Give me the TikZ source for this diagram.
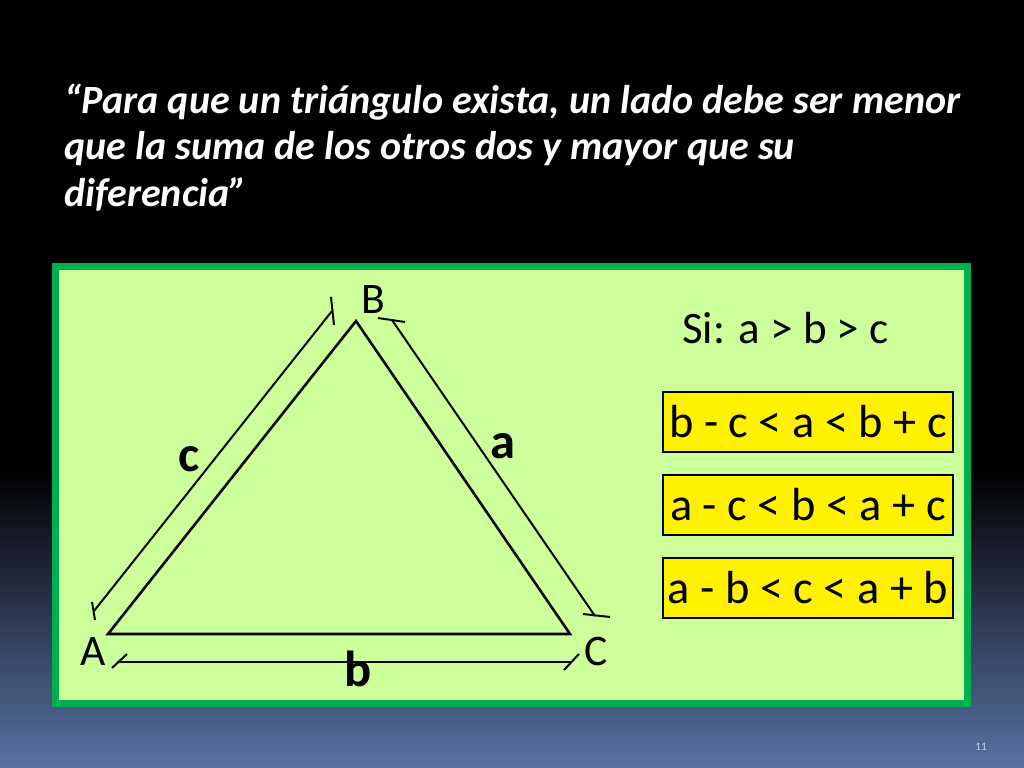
\documentclass[tikz,border=0pt]{standalone}
\usepackage{fontspec}
\setmainfont{Carlito}
\usepackage{tikz}
\usetikzlibrary{positioning,calc}
\definecolor{slideblue}{RGB}{88,114,164}
\definecolor{framegreen}{RGB}{0,176,80}
\definecolor{panelgreen}{RGB}{204,255,153}
\definecolor{pagegray}{RGB}{200,210,230}

\tikzset{
  side/.style={line width=1.8pt},
  dimline/.style={line width=1.4pt},
  vertex/.style={font=\fontsize{31}{31}\selectfont},
  sidelabel/.style={font=\bfseries\fontsize{36}{36}\selectfont},
  ineq/.style={draw=black, line width=1.3pt, fill=yellow, minimum width=290*0.025cm,
    minimum height=60*0.025cm, inner sep=0pt, font=\fontsize{33}{33}\selectfont}
}

\begin{document}
\begin{tikzpicture}[x=0.025cm,y=-0.025cm]
      \useasboundingbox (0,0) rectangle (1024,768);
      % background
      \fill[black] (0,0) rectangle (1024,768);
      \shade[top color=black,bottom color=slideblue] (0,470) rectangle (1024,768);

      % title
      \node[anchor=north west, text=white, align=left, inner sep=0pt,
        font=\bfseries\itshape\fontsize{28.5}{32.8}\selectfont] (title) at (64,84)
        {“Para que un triángulo exista, un lado debe ser menor\\
         que la suma de los otros dos y mayor que su\\
         diferencia”};

      % panel
      \draw[framegreen, line width=5pt, fill=panelgreen] (55.5,266.5) rectangle (967.5,703.5);

      % triangle
      \coordinate (A) at (108,634);
      \coordinate (B) at (356,321);
      \coordinate (C) at (570,634);
      \draw[side, line join=miter] (A) -- (B) -- (C) -- cycle;

      \node[vertex] (lA) at (93,652) {A};
      \node[vertex] (lB) at (373,300) {B};
      \node[vertex] (lC) at (596,651) {C};

      % side c
      \coordinate (c1) at (94,611);
      \coordinate (c2) at (332,311);
      \draw[dimline] (c1) -- (c2);
      \draw[dimline] (92,602) -- (95,620);
      \draw[dimline] (331,297) -- (334,325);
      \node[sidelabel] (lc) at (189,459) {c};

      % side a
      \coordinate (a1) at (392,320);
      \coordinate (a2) at (595,616);
      \draw[dimline] (a1) -- (a2);
      \draw[dimline] (378,318) -- (405,322);
      \draw[dimline] (583,614) -- (610,617);
      \node[sidelabel] (la) at (503,446) {a};

      % side b
      \coordinate (b1) at (117,662);
      \coordinate (b2) at (572,662);
      \draw[dimline] (b1) -- (b2);
      \draw[dimline] (112,668) -- (127,654);
      \draw[dimline] (564,670) -- (579,654);
      \node[sidelabel] (lb) at (358,669) {b};

      % conditions
      \node[anchor=base west, inner sep=0pt, font=\fontsize{32}{32}\selectfont] (si) at (682,343) {Si: a > b > c};
      \node[ineq] (i1) at (808,422) {b - c < a < b + c};
      \node[ineq] (i2) at (808,505) {a - c < b < a + c};
      \node[ineq] (i3) at (808,588) {a - b < c < a + b};

      \node[text=pagegray, font=\fontsize{8}{8}\selectfont] (page) at (981,747) {11};
\end{tikzpicture}
\end{document}
